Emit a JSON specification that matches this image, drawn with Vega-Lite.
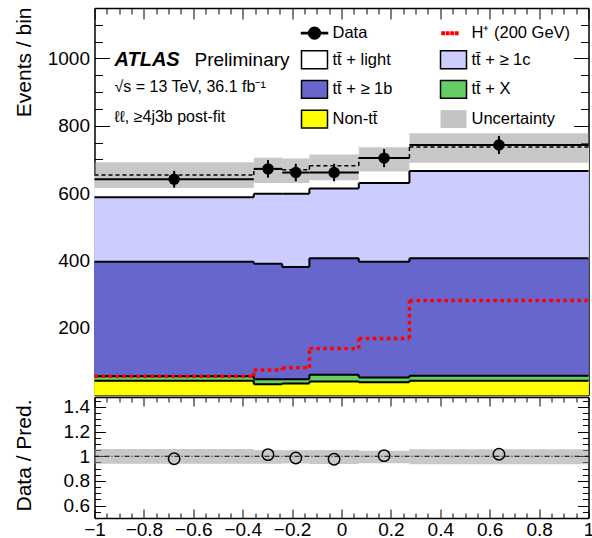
{
"$schema": "https://vega.github.io/schema/vega-lite/v6.json",
"padding": {"left": 12.5, "top": 7, "right": 0, "bottom": 0},
"spacing": 0,
"config": {
  "font": "Liberation Sans",
  "view": {"stroke": null},
  "axis": {"domainColor": "black", "domainWidth": 1.5, "tickColor": "black", "tickWidth": 1, "labelFont": "Liberation Sans", "labelFontSize": 19, "labelColor": "black", "titleFont": "Liberation Sans", "titleFontSize": 21, "titleFontWeight": "normal", "titleColor": "black", "grid": false, "zindex": 1, "labelOverlap": false, "labelFlush": false, "labelBound": false}
},
"datasets": {
  "stack": [
    {"lo": -1, "hi": -0.355, "comp": "Non-tt\u0304", "order": 1, "v": 42},
    {"lo": -1, "hi": -0.355, "comp": "tt\u0304 + X", "order": 2, "v": 14},
    {"lo": -1, "hi": -0.355, "comp": "tt\u0304 + \u2265 1b", "order": 3, "v": 340},
    {"lo": -1, "hi": -0.355, "comp": "tt\u0304 + \u2265 1c", "order": 4, "v": 192},
    {"lo": -1, "hi": -0.355, "comp": "tt\u0304 + light", "order": 5, "v": 66},
    {"lo": -0.355, "hi": -0.24, "comp": "Non-tt\u0304", "order": 1, "v": 32},
    {"lo": -0.355, "hi": -0.24, "comp": "tt\u0304 + X", "order": 2, "v": 15},
    {"lo": -0.355, "hi": -0.24, "comp": "tt\u0304 + \u2265 1b", "order": 3, "v": 343},
    {"lo": -0.355, "hi": -0.24, "comp": "tt\u0304 + \u2265 1c", "order": 4, "v": 208},
    {"lo": -0.355, "hi": -0.24, "comp": "tt\u0304 + light", "order": 5, "v": 73},
    {"lo": -0.24, "hi": -0.13, "comp": "Non-tt\u0304", "order": 1, "v": 34},
    {"lo": -0.24, "hi": -0.13, "comp": "tt\u0304 + X", "order": 2, "v": 13},
    {"lo": -0.24, "hi": -0.13, "comp": "tt\u0304 + \u2265 1b", "order": 3, "v": 333},
    {"lo": -0.24, "hi": -0.13, "comp": "tt\u0304 + \u2265 1c", "order": 4, "v": 218},
    {"lo": -0.24, "hi": -0.13, "comp": "tt\u0304 + light", "order": 5, "v": 71},
    {"lo": -0.13, "hi": 0.07, "comp": "Non-tt\u0304", "order": 1, "v": 40},
    {"lo": -0.13, "hi": 0.07, "comp": "tt\u0304 + X", "order": 2, "v": 20},
    {"lo": -0.13, "hi": 0.07, "comp": "tt\u0304 + \u2265 1b", "order": 3, "v": 346},
    {"lo": -0.13, "hi": 0.07, "comp": "tt\u0304 + \u2265 1c", "order": 4, "v": 208},
    {"lo": -0.13, "hi": 0.07, "comp": "tt\u0304 + light", "order": 5, "v": 67},
    {"lo": 0.07, "hi": 0.275, "comp": "Non-tt\u0304", "order": 1, "v": 38},
    {"lo": 0.07, "hi": 0.275, "comp": "tt\u0304 + X", "order": 2, "v": 14},
    {"lo": 0.07, "hi": 0.275, "comp": "tt\u0304 + \u2265 1b", "order": 3, "v": 344},
    {"lo": 0.07, "hi": 0.275, "comp": "tt\u0304 + \u2265 1c", "order": 4, "v": 234},
    {"lo": 0.07, "hi": 0.275, "comp": "tt\u0304 + light", "order": 5, "v": 74},
    {"lo": 0.275, "hi": 1, "comp": "Non-tt\u0304", "order": 1, "v": 42},
    {"lo": 0.275, "hi": 1, "comp": "tt\u0304 + X", "order": 2, "v": 15},
    {"lo": 0.275, "hi": 1, "comp": "tt\u0304 + \u2265 1b", "order": 3, "v": 349},
    {"lo": 0.275, "hi": 1, "comp": "tt\u0304 + \u2265 1c", "order": 4, "v": 260},
    {"lo": 0.275, "hi": 1, "comp": "tt\u0304 + light", "order": 5, "v": 71}
  ],
  "bins": [
    {"lo": -1, "hi": -0.355, "xc": -0.6775, "data": 641, "dlo": 616, "dhi": 666, "ratio": 0.98, "blo": 615, "bhi": 692, "rlo": 0.94, "rhi": 1.058, "h": 56},
    {"lo": -0.355, "hi": -0.24, "xc": -0.2975, "data": 672, "dlo": 646, "dhi": 698, "ratio": 1.013, "blo": 630, "bhi": 705, "rlo": 0.939, "rhi": 1.05, "h": 74},
    {"lo": -0.24, "hi": -0.13, "xc": -0.185, "data": 661, "dlo": 635, "dhi": 687, "ratio": 0.986, "blo": 630, "bhi": 703, "rlo": 0.942, "rhi": 1.05, "h": 81},
    {"lo": -0.13, "hi": 0.07, "xc": -0.03, "data": 661, "dlo": 635, "dhi": 687, "ratio": 0.976, "blo": 638, "bhi": 715, "rlo": 0.937, "rhi": 1.05, "h": 138},
    {"lo": 0.07, "hi": 0.275, "xc": 0.1725, "data": 704, "dlo": 677, "dhi": 731, "ratio": 1.005, "blo": 664, "bhi": 736, "rlo": 0.943, "rhi": 1.045, "h": 168},
    {"lo": 0.275, "hi": 1, "xc": 0.6375, "data": 743, "dlo": 716, "dhi": 770, "ratio": 1.016, "blo": 690, "bhi": 778, "rlo": 0.936, "rhi": 1.056, "h": 281}
  ]
},
"vconcat": [
  {
    "width": 494, "height": 387,
    "resolve": {"axis": {"x": "independent", "y": "independent"}},
    "layer": [
      {
        "data": {"name": "stack"},
        "transform": [{"stack": "v", "groupby": ["lo"], "sort": [{"field": "order", "order": "ascending"}], "as": ["y0", "y1"]}],
        "mark": {"type": "rect", "strokeWidth": 0.8},
        "encoding": {
          "x": {"field": "lo", "type": "quantitative", "scale": {"domain": [-1, 1], "nice": false, "zero": false},
                "axis": {"orient": "bottom", "values": [-1,-0.95,-0.9,-0.85,-0.8,-0.75,-0.7,-0.65,-0.6,-0.55,-0.5,-0.45,-0.4,-0.35,-0.3,-0.25,-0.2,-0.15,-0.1,-0.05,0,0.05,0.1,0.15,0.2,0.25,0.3,0.35,0.4,0.45,0.5,0.55,0.6,0.65,0.7,0.75,0.8,0.85,0.9,0.95,1], "labels": false, "title": null,
                         "tickSize": {"condition": {"test": "abs(datum.value*5-round(datum.value*5))<0.001", "value": -11}, "value": -6}}},
          "x2": {"field": "hi"},
          "y": {"field": "y0", "type": "quantitative", "scale": {"domain": [0, 1150], "nice": false, "zero": false},
                "axis": {"orient": "left", "values": [0,50,100,150,200,250,300,350,400,450,500,550,600,650,700,750,800,850,900,950,1000,1050,1100,1150], "format": "d",
                         "labelExpr": "datum.value % 200 === 0 && datum.value > 0 ? datum.label : ''", "labelPadding": 20,
                         "labelFontSize": {"condition": {"test": "datum.value % 200 === 0 && datum.value > 0", "value": 19}, "value": 0},
                         "tickSize": {"condition": {"test": "datum.value % 200 === 0", "value": -15}, "value": -8},
                         "title": "Events / bin", "titleX": -70, "titleY": -1, "titleAngle": -90, "titleAlign": "right", "titleBaseline": "middle"}},
          "y2": {"field": "y1"},
          "stroke": {"condition": [{"test": "datum.order === 1", "value": "#ffff00"}, {"test": "datum.order === 2", "value": "#66cc66"}, {"test": "datum.order === 3", "value": "#6666cc"}, {"test": "datum.order === 4", "value": "#ccccff"}], "value": "white"},
          "fill": {"field": "comp", "type": "nominal",
                   "scale": {"domain": ["Data", "H\u207a (200 GeV)", "tt\u0304 + light", "tt\u0304 + \u2265 1c", "tt\u0304 + \u2265 1b", "tt\u0304 + X", "Non-tt\u0304", "Uncertainty"],
                             "range": ["black", "#ff0000", "white", "#ccccff", "#6666cc", "#66cc66", "#ffff00", "#c4c4c4"]},
                   "legend": {"title": null, "orient": "none", "legendX": 206, "legendY": 11, "direction": "horizontal", "columns": 2, "columnPadding": 45, "rowPadding": 3.7, "gridAlign": "each", "padding": 0,
                              "symbolSize": 676, "symbolStrokeWidth": 1.5, "labelFont": "Liberation Sans", "labelFontSize": 16.5, "labelColor": "black", "labelOffset": 4, "labelLimit": 300, "symbolOpacity": 1}}
        }
      },
      {
        "data": {"name": "stack"},
        "mark": {"type": "point", "opacity": 0, "filled": true},
        "encoding": {
          "x": {"field": "lo", "type": "quantitative", "scale": {"domain": [-1, 1], "nice": false, "zero": false}, "axis": null},
          "y": {"field": "v", "type": "quantitative", "scale": {"domain": [0, 1150], "nice": false, "zero": false}, "axis": null},
          "shape": {"field": "comp", "type": "nominal",
                    "scale": {"domain": ["Data", "H\u207a (200 GeV)", "tt\u0304 + light", "tt\u0304 + \u2265 1c", "tt\u0304 + \u2265 1b", "tt\u0304 + X", "Non-tt\u0304", "Uncertainty"],
                              "range": ["M-1,-0.05H1V0.05H-1ZM0.45,0A0.45,0.45,0,1,1,-0.45,0A0.45,0.45,0,1,1,0.45,0Z",
                                        "M-0.89,-0.09h0.18v0.18h-0.18ZM-0.54,-0.09h0.18v0.18h-0.18ZM-0.19,-0.09h0.18v0.18h-0.18ZM0.16,-0.09h0.18v0.18h-0.18Z",
                                        "M-1,-0.69H1V0.69H-1Z", "M-1,-0.69H1V0.69H-1Z", "M-1,-0.69H1V0.69H-1Z", "M-1,-0.69H1V0.69H-1Z", "M-1,-0.69H1V0.69H-1Z", "M-1,-0.69H1V0.69H-1Z"]},
                    "legend": {"title": null, "orient": "none", "legendX": 206, "legendY": 11, "direction": "horizontal", "columns": 2, "columnPadding": 45, "rowPadding": 3.7, "gridAlign": "each", "padding": 0,
                              "symbolSize": 676, "symbolStrokeWidth": 1.5, "labelFont": "Liberation Sans", "labelFontSize": 16.5, "labelColor": "black", "labelOffset": 4, "labelLimit": 300, "symbolOpacity": 1}},
          "stroke": {"field": "comp", "type": "nominal",
                     "scale": {"domain": ["Data", "H\u207a (200 GeV)", "tt\u0304 + light", "tt\u0304 + \u2265 1c", "tt\u0304 + \u2265 1b", "tt\u0304 + X", "Non-tt\u0304", "Uncertainty"],
                               "range": ["black", "#ff0000", "black", "black", "black", "black", "black", "transparent"]},
                     "legend": {"title": null, "orient": "none", "legendX": 206, "legendY": 11, "direction": "horizontal", "columns": 2, "columnPadding": 45, "rowPadding": 3.7, "gridAlign": "each", "padding": 0,
                              "symbolSize": 676, "symbolStrokeWidth": 1.5, "labelFont": "Liberation Sans", "labelFontSize": 16.5, "labelColor": "black", "labelOffset": 4, "labelLimit": 300, "symbolOpacity": 1}}
        }
      },
      {
        "data": {"name": "bins"},
        "mark": {"type": "rect", "fill": "#9a9a9a", "opacity": 0.55},
        "encoding": {
          "x": {"field": "lo", "type": "quantitative", "scale": {"domain": [-1, 1], "nice": false, "zero": false},
                "axis": {"orient": "top", "values": [-1,-0.95,-0.9,-0.85,-0.8,-0.75,-0.7,-0.65,-0.6,-0.55,-0.5,-0.45,-0.4,-0.35,-0.3,-0.25,-0.2,-0.15,-0.1,-0.05,0,0.05,0.1,0.15,0.2,0.25,0.3,0.35,0.4,0.45,0.5,0.55,0.6,0.65,0.7,0.75,0.8,0.85,0.9,0.95,1], "labels": false, "title": null,
                         "tickSize": {"condition": {"test": "abs(datum.value*5-round(datum.value*5))<0.001", "value": -11}, "value": -6}}},
          "x2": {"field": "hi"},
          "y": {"field": "blo", "type": "quantitative", "scale": {"domain": [0, 1150], "nice": false, "zero": false},
                "axis": {"orient": "right", "values": [0,50,100,150,200,250,300,350,400,450,500,550,600,650,700,750,800,850,900,950,1000,1050,1100,1150], "labels": false, "title": null,
                         "tickSize": {"condition": {"test": "datum.value % 200 === 0", "value": -15}, "value": -8}}},
          "y2": {"field": "bhi"}
        }
      },
      {
        "data": {"name": "stack"},
        "transform": [{"stack": "v", "groupby": ["lo"], "sort": [{"field": "order", "order": "ascending"}], "as": ["y0", "y1"]}],
        "mark": {"type": "rule", "color": "black"},
        "encoding": {
          "x": {"field": "lo", "type": "quantitative", "scale": {"domain": [-1, 1], "nice": false, "zero": false}, "axis": null},
          "x2": {"field": "hi"},
          "y": {"field": "y1", "type": "quantitative", "scale": {"domain": [0, 1150], "nice": false, "zero": false}, "axis": null},
          "strokeWidth": {"condition": {"test": "datum.order === 5", "value": 1.5}, "value": 2},
          "strokeDash": {"condition": {"test": "datum.order === 5", "value": [4, 3]}, "value": [1, 0]}
        }
      },
      {
        "data": {"name": "stack"},
        "transform": [
          {"stack": "v", "groupby": ["lo"], "sort": [{"field": "order", "order": "ascending"}], "as": ["y0", "y1"]},
          {"window": [{"op": "lag", "field": "y1", "as": "prev"}], "groupby": ["comp"], "sort": [{"field": "lo", "order": "ascending"}]},
          {"filter": "datum.prev != null"}
        ],
        "mark": {"type": "rule", "color": "black"},
        "encoding": {
          "x": {"field": "lo", "type": "quantitative", "scale": {"domain": [-1, 1], "nice": false, "zero": false}, "axis": null},
          "y": {"field": "prev", "type": "quantitative", "scale": {"domain": [0, 1150], "nice": false, "zero": false}, "axis": null},
          "y2": {"field": "y1"},
          "strokeWidth": {"condition": {"test": "datum.order === 5", "value": 1.5}, "value": 2},
          "strokeDash": {"condition": {"test": "datum.order === 5", "value": [4, 3]}, "value": [1, 0]}
        }
      },
      {
        "data": {"name": "bins"},
        "mark": {"type": "rule", "color": "#ff0000", "strokeWidth": 3.5, "strokeDash": [3.5, 3.5]},
        "encoding": {
          "x": {"field": "lo", "type": "quantitative", "scale": {"domain": [-1, 1], "nice": false, "zero": false}, "axis": null},
          "x2": {"field": "hi"},
          "y": {"field": "h", "type": "quantitative", "scale": {"domain": [0, 1150], "nice": false, "zero": false}, "axis": null}
        }
      },
      {
        "data": {"name": "bins"},
        "transform": [
          {"window": [{"op": "lag", "field": "h", "as": "hprev"}], "sort": [{"field": "lo", "order": "ascending"}]},
          {"filter": "datum.hprev != null"}
        ],
        "mark": {"type": "rule", "color": "#ff0000", "strokeWidth": 3.5, "strokeDash": [3.5, 3.5]},
        "encoding": {
          "x": {"field": "lo", "type": "quantitative", "scale": {"domain": [-1, 1], "nice": false, "zero": false}, "axis": null},
          "y": {"field": "hprev", "type": "quantitative", "scale": {"domain": [0, 1150], "nice": false, "zero": false}, "axis": null},
          "y2": {"field": "h"}
        }
      },
      {
        "data": {"name": "bins"},
        "mark": {"type": "rule", "color": "black", "strokeWidth": 2},
        "encoding": {
          "x": {"field": "lo", "type": "quantitative", "scale": {"domain": [-1, 1], "nice": false, "zero": false}, "axis": null},
          "x2": {"field": "hi"},
          "y": {"field": "data", "type": "quantitative", "scale": {"domain": [0, 1150], "nice": false, "zero": false}, "axis": null}
        }
      },
      {
        "data": {"name": "bins"},
        "mark": {"type": "rule", "color": "black", "strokeWidth": 2},
        "encoding": {
          "x": {"field": "xc", "type": "quantitative", "scale": {"domain": [-1, 1], "nice": false, "zero": false}, "axis": null},
          "y": {"field": "dlo", "type": "quantitative", "scale": {"domain": [0, 1150], "nice": false, "zero": false}, "axis": null},
          "y2": {"field": "dhi"}
        }
      },
      {
        "data": {"name": "bins"},
        "mark": {"type": "circle", "color": "black", "opacity": 1, "size": 130},
        "encoding": {
          "x": {"field": "xc", "type": "quantitative", "scale": {"domain": [-1, 1], "nice": false, "zero": false}, "axis": null},
          "y": {"field": "data", "type": "quantitative", "scale": {"domain": [0, 1150], "nice": false, "zero": false}, "axis": null}
        }
      },
      {
        "data": {"values": [{}]},
        "mark": {"type": "text", "text": "ATLAS", "font": "Liberation Sans", "fontStyle": "italic", "fontWeight": "bold", "fontSize": 20, "align": "left", "baseline": "middle", "color": "black"},
        "encoding": {
          "x": {"datum": -0.919, "type": "quantitative", "scale": {"domain": [-1, 1], "nice": false, "zero": false}, "axis": null},
          "y": {"datum": 994, "type": "quantitative", "scale": {"domain": [0, 1150], "nice": false, "zero": false}, "axis": null}
        }
      },
      {
        "data": {"values": [{}]},
        "mark": {"type": "text", "text": "Preliminary", "font": "Liberation Sans", "fontSize": 19, "align": "left", "baseline": "middle", "color": "black"},
        "encoding": {
          "x": {"datum": -0.595, "type": "quantitative", "scale": {"domain": [-1, 1], "nice": false, "zero": false}, "axis": null},
          "y": {"datum": 994, "type": "quantitative", "scale": {"domain": [0, 1150], "nice": false, "zero": false}, "axis": null}
        }
      },
      {
        "data": {"values": [{}]},
        "mark": {"type": "text", "text": "\u221as = 13 TeV, 36.1 fb\u207b\u00b9", "font": "Liberation Sans", "fontSize": 16, "align": "left", "baseline": "middle", "color": "black"},
        "encoding": {
          "x": {"datum": -0.919, "type": "quantitative", "scale": {"domain": [-1, 1], "nice": false, "zero": false}, "axis": null},
          "y": {"datum": 914, "type": "quantitative", "scale": {"domain": [0, 1150], "nice": false, "zero": false}, "axis": null}
        }
      },
      {
        "data": {"values": [{}]},
        "mark": {"type": "text", "text": "\u2113\u2113, \u22654j3b post-fit", "font": "Liberation Sans", "fontSize": 16, "align": "left", "baseline": "middle", "color": "black"},
        "encoding": {
          "x": {"datum": -0.919, "type": "quantitative", "scale": {"domain": [-1, 1], "nice": false, "zero": false}, "axis": null},
          "y": {"datum": 826, "type": "quantitative", "scale": {"domain": [0, 1150], "nice": false, "zero": false}, "axis": null}
        }
      }
    ]
  },
  {
    "width": 494, "height": 121,
    "resolve": {"axis": {"x": "independent", "y": "independent"}},
    "layer": [
      {
        "data": {"name": "bins"},
        "mark": {"type": "rect", "fill": "#9a9a9a", "opacity": 0.55},
        "encoding": {
          "x": {"field": "lo", "type": "quantitative", "scale": {"domain": [-1, 1], "nice": false, "zero": false},
                "axis": {"orient": "bottom", "values": [-1,-0.95,-0.9,-0.85,-0.8,-0.75,-0.7,-0.65,-0.6,-0.55,-0.5,-0.45,-0.4,-0.35,-0.3,-0.25,-0.2,-0.15,-0.1,-0.05,0,0.05,0.1,0.15,0.2,0.25,0.3,0.35,0.4,0.45,0.5,0.55,0.6,0.65,0.7,0.75,0.8,0.85,0.9,0.95,1], "format": "~g",
                         "labelExpr": "abs(datum.value*5-round(datum.value*5))<0.001 ? datum.label : ''", "labelPadding": 11, "title": null,
                         "labelFontSize": {"condition": {"test": "abs(datum.value*5-round(datum.value*5))<0.001", "value": 19}, "value": 0},
                         "tickSize": {"condition": {"test": "abs(datum.value*5-round(datum.value*5))<0.001", "value": -9}, "value": -5}}},
          "x2": {"field": "hi"},
          "y": {"field": "rlo", "type": "quantitative", "scale": {"domain": [0.5, 1.48], "nice": false, "zero": false},
                "axis": {"orient": "left", "values": [0.5,0.55,0.6,0.65,0.7,0.75,0.8,0.85,0.9,0.95,1,1.05,1.1,1.15,1.2,1.25,1.3,1.35,1.4,1.45], "format": "~g",
                         "labelExpr": "(abs(datum.value*5-round(datum.value*5))<0.001 && datum.value > 0.55) ? datum.label : ''", "labelPadding": 16,
                         "labelFontSize": {"condition": {"test": "abs(datum.value*5-round(datum.value*5))<0.001 && datum.value > 0.55", "value": 19}, "value": 0},
                         "tickSize": {"condition": {"test": "abs(datum.value*5-round(datum.value*5))<0.001", "value": -11}, "value": -6},
                         "title": "Data / Pred.", "titleX": -70, "titleY": 58, "titleAngle": -90, "titleAlign": "center", "titleBaseline": "middle"}},
          "y2": {"field": "rhi"}
        }
      },
      {
        "data": {"values": [{}]},
        "mark": {"type": "rule", "color": "black", "strokeWidth": 1, "strokeDash": [5, 2, 1, 2]},
        "encoding": {
          "x": {"datum": -1, "type": "quantitative", "scale": {"domain": [-1, 1], "nice": false, "zero": false},
                "axis": {"orient": "top", "values": [-1,-0.95,-0.9,-0.85,-0.8,-0.75,-0.7,-0.65,-0.6,-0.55,-0.5,-0.45,-0.4,-0.35,-0.3,-0.25,-0.2,-0.15,-0.1,-0.05,0,0.05,0.1,0.15,0.2,0.25,0.3,0.35,0.4,0.45,0.5,0.55,0.6,0.65,0.7,0.75,0.8,0.85,0.9,0.95,1], "labels": false, "title": null,
                         "tickSize": {"condition": {"test": "abs(datum.value*5-round(datum.value*5))<0.001", "value": -9}, "value": -5}}},
          "x2": {"datum": 1},
          "y": {"datum": 1, "type": "quantitative", "scale": {"domain": [0.5, 1.48], "nice": false, "zero": false},
                "axis": {"orient": "right", "values": [0.5,0.55,0.6,0.65,0.7,0.75,0.8,0.85,0.9,0.95,1,1.05,1.1,1.15,1.2,1.25,1.3,1.35,1.4,1.45], "labels": false, "title": null,
                         "tickSize": {"condition": {"test": "abs(datum.value*5-round(datum.value*5))<0.001", "value": -11}, "value": -6}}}
        }
      },
      {
        "data": {"name": "bins"},
        "mark": {"type": "point", "shape": "circle", "filled": false, "color": "black", "opacity": 1, "size": 130, "strokeWidth": 1.5},
        "encoding": {
          "x": {"field": "xc", "type": "quantitative", "scale": {"domain": [-1, 1], "nice": false, "zero": false}, "axis": null},
          "y": {"field": "ratio", "type": "quantitative", "scale": {"domain": [0.5, 1.48], "nice": false, "zero": false}, "axis": null}
        }
      }
    ]
  }
]
}
